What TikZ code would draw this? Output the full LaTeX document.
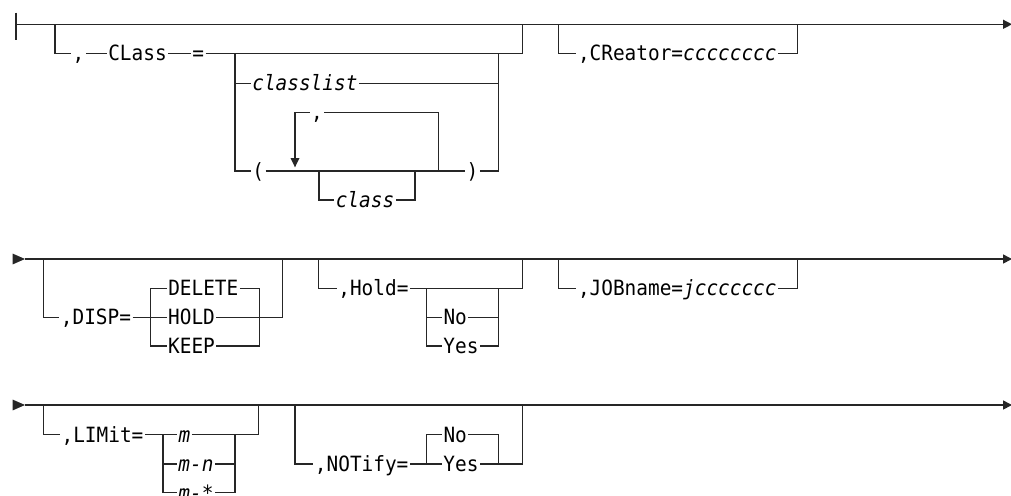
\documentclass[tikz,border=0pt]{standalone}
\usepackage{fontspec}
\setmonofont[FakeStretch=0.924]{DejaVu Sans Mono}
\begin{document}
\begin{tikzpicture}[x=1pt,y=-1pt,line width=1.1pt,color=black!85,
  lbl/.style={font=\ttfamily\fontsize{21}{22}\selectfont,inner xsep=1pt,inner ysep=0pt,
    text height=15.3pt,text depth=0pt,anchor=center,text=black}]
\useasboundingbox (0,0) rectangle (1011,495);
% ---------------- row 1 ----------------
\node[lbl] (c1) at (78.5,53.3) {,};
\node[lbl] (cls) at (137.5,53.3) {CLass};
\node[lbl] (eq1) at (198.3,53.3) {=};
\node[lbl] (clist) at (304.9,83.3) {\itshape classlist};
\node[lbl] (lp) at (258.3,171) {(};
\node[lbl] (rp) at (472.5,171) {)};
\node[lbl] (lc) at (317,112.3) {,};
\node[lbl] (cl) at (365,200) {\itshape class};
\node[lbl] (cre) at (677.3,53.3) {,CReator=\textit{cccccccc}};
\coordinate (s1) at (16,24.3);
\coordinate (e1) at (1003,24.3);
\draw (16,12.7) -- (16,40);
\draw (s1) -- (e1);
\fill (1012,24.3) -- (1003,19.6) -- (1003,29) -- cycle;
\draw (55,24.3) |- (c1.west);
\draw (c1.east) -- (cls.west);
\draw (cls.east) -- (eq1.west);
\draw (eq1.east) -| (522.3,24.3);
\draw (235,53.3) |- (clist.west);
\draw (235,83.3) |- (lp.west);
\draw (clist.east) -| (498.3,53.3);
\draw (rp.east) -| (498.3,83.3);
\draw (lp.east) -- (rp.west);
\draw (295,158) |- (lc.west);
\fill (290.5,158) -- (299.5,158) -- (295,167.3) -- cycle;
\draw (lc.east) -| (438.3,171);
\draw (319,171) |- (cl.west);
\draw (cl.east) -| (415,171);
\draw (558.3,24.3) |- (cre.west);
\draw (cre.east) -| (797.7,24.3);
% ---------------- row 2 ----------------
\node[lbl] (disp) at (96,317.3) {,DISP=};
\node[lbl] (del) at (203.3,288.3) {DELETE};
\node[lbl] (hold) at (191.5,317.3) {HOLD};
\node[lbl] (keep) at (191.5,346) {KEEP};
\node[lbl] (hld) at (373.4,288.3) {,Hold=};
\node[lbl] (hno) at (455.2,317.3) {No};
\node[lbl] (hyes) at (461,346) {Yes};
\node[lbl] (job) at (677.3,288.3) {,JOBname=\textit{jccccccc}};
\coordinate (s2) at (25,259);
\coordinate (e2) at (1003,259);
\fill (12.7,253.6) -- (25,259) -- (12.7,264.4) -- cycle;
\draw (s2) -- (e2);
\fill (1012,259) -- (1003,254.3) -- (1003,263.7) -- cycle;
\draw (43.3,259) |- (disp.west);
\draw (disp.east) -- (hold.west);
\draw (del.west) -| (150.7,346) -- (keep.west);
\draw (del.east) -| (259.3,346) -- (keep.east);
\draw (hold.east) -| (282.7,259);
\draw (318.3,259) |- (hld.west);
\draw (hld.east) -| (522.3,259);
\draw (426.7,288.3) |- (hno.west);
\draw (426.7,317.3) |- (hyes.west);
\draw (hno.east) -| (498.3,288.3);
\draw (hyes.east) -| (498.3,317.3);
\draw (558.3,259) |- (job.west);
\draw (job.east) -| (797.7,259);
% ---------------- row 3 ----------------
\node[lbl] (lim) at (102.5,434.7) {,LIMit=};
\node[lbl] (m1) at (184.4,434.7) {\itshape m};
\node[lbl] (m2) at (196,464) {\itshape m-n};
\node[lbl] (m3) at (196,492.7) {\itshape m-*};
\node[lbl] (ntf) at (361.7,464) {,NOTify=};
\node[lbl] (nno) at (455.2,434.7) {No};
\node[lbl] (nyes) at (461,464) {Yes};
\coordinate (s3) at (25,405);
\coordinate (e3) at (1003,405);
\fill (12.7,399.6) -- (25,405) -- (12.7,410.4) -- cycle;
\draw (s3) -- (e3);
\fill (1012,405) -- (1003,400.3) -- (1003,409.7) -- cycle;
\draw (43.3,405) |- (lim.west);
\draw (lim.east) -- (m1.west);
\draw (163,434.7) |- (m2.west);
\draw (163,464) |- (m3.west);
\draw (m1.east) -| (258.3,405);
\draw (m2.east) -| (235,434.7);
\draw (m3.east) -| (235,464);
\draw (295,405) |- (ntf.west);
\draw (ntf.east) -- (nyes.west);
\draw (nno.west) -| (426.7,464);
\draw (nno.east) -| (498.3,464);
\draw (nyes.east) -| (522.3,405);
\end{tikzpicture}
\end{document}
